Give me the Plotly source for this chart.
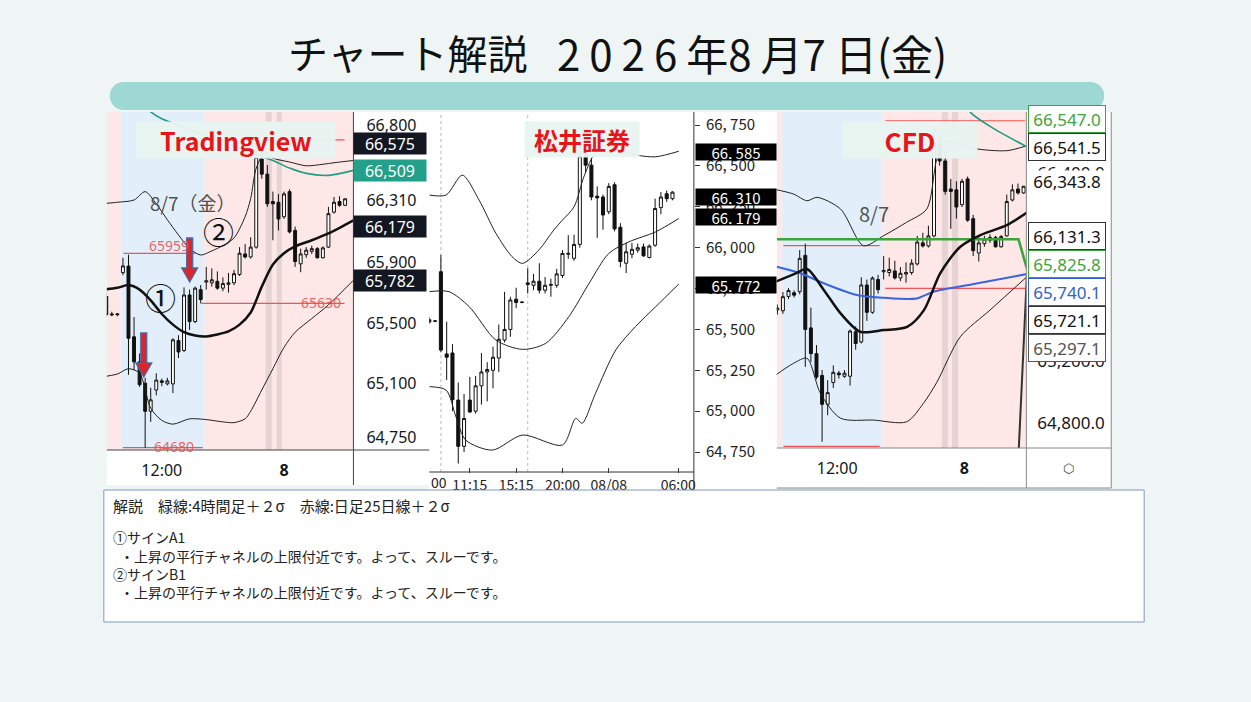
import plotly.graph_objects as go

W, H = 1251, 702
def px(x): return x / W
def py(y): return 1 - y / H

JP = "Noto Sans CJK JP"
TVF = "Noto Sans"

# ---------------- data ----------------
# Panel 1 : TradingView 30-min candles (bar index 1..44)
tv_idx = list(range(1, 45))
tv_open = [65675,65560,65555,65832,65875,65410,65245,65105,64920,65060,65120,65100,65100,65385,65320,
           65685,65510,65720,65770,65765,65775,65730,65755,65765,65820,65955,65935,66000,66580,66480,
           66300,66295,66200,66365,66110,65890,65950,65972,65990,65930,66000,66230,66300,66275]
tv_high = [65700,65575,65565,65930,65950,65540,65300,65140,65075,65170,65135,65140,65400,65420,65735,
           65720,65740,65750,65870,65860,65840,65800,65830,65850,66000,66020,66065,66700,66650,66540,
           66365,66350,66365,66380,66135,65990,66000,66010,66000,66005,66265,66330,66335,66320]
tv_low = [65540,65545,65545,65815,65160,65190,65080,64680,64850,65025,65085,65090,65040,65270,65310,
          65455,65500,65630,65720,65740,65720,65710,65700,65750,65810,65925,65925,65990,66450,66265,
          66045,66110,66185,66090,65870,65835,65930,65955,65925,65925,65995,66220,66265,66270]
tv_close = [65555,65555,65560,65876,65400,65245,65095,64920,64995,65125,65110,65120,65390,65310,65685,
            65510,65730,65655,65778,65785,65730,65760,65765,65825,65960,65935,66000,66590,66480,66285,
            66285,66185,66350,66100,65905,65955,65980,65990,65930,65995,66220,66295,66275,66318]
tv_up_x = [0, 3, 6, 8, 10, 12, 14, 16, 18, 20, 22, 24, 26, 27, 28, 29.5, 31, 34, 37, 40, 42, 45.5]
tv_up_y = [66285, 66295, 66310, 66365, 66285, 66180, 66080, 65990, 65948, 65975, 66010, 66060, 66200,
           66320, 66520, 66620, 66585, 66560, 66535, 66545, 66555, 66570]
tv_mid_x = [0, 3, 5, 7, 9, 11, 13, 15, 17, 19, 21, 23, 25, 27, 29, 31, 33, 35, 38, 41, 45.5]
tv_mid_y = [65718, 65732, 65750, 65720, 65650, 65560, 65490, 65440, 65418, 65412, 65425, 65445, 65490,
            65570, 65740, 65885, 65960, 66005, 66045, 66090, 66176]
tv_lo_x = [0, 3, 5, 7, 9, 11, 13, 16, 19, 22, 24, 26, 27, 29, 31, 33, 35, 38, 41, 45.5]
tv_lo_y = [65145, 65165, 65200, 65170, 64940, 64860, 64835, 64870, 64865, 64850, 64845, 64870, 64920,
           65060, 65200, 65340, 65440, 65530, 65620, 65782]
tv_teal_x = [8, 9, 11, 31, 34, 37, 41, 45.5]
tv_teal_y = [66930, 66890, 66845, 66570, 66520, 66485, 66472, 66505]
tv_ticks = [64750, 65100, 65500, 65900, 66310, 66800]
tv_tick_text = ["64,750", "65,100", "65,500", "65,900", "66,310", "66,800"]
tv_time_idx = [11, 33]
tv_time_text = ["12:00", "<b>8</b>"]
tv_labels = ["66,575", "66,509", "66,179", "65,782"]
tv_red_levels = [65959, 64680, 65630, 66705]
tv_red_from = [4.1, 4.0, 18.1, 18.7]
tv_red_to = [17.0, 18.4, 43.9, 43.9]

# Panel 2 : Matsui 30-min candles (bar index 3..45)
mt_idx = list(range(3, 46))
mt_open = [65560,65550,65853,65350,65356,65068,64785,65068,65000,65155,65240,65250,65325,65435,65500,
           65685,65665,65775,65770,65795,65740,65770,65770,65830,65960,65935,66020,66570,66505,66315,
           66310,66220,66385,66125,65905,65960,65985,66005,65940,66015,66245,66330,66300]
mt_high = [65575,65555,65955,65547,65410,65175,65105,65210,65215,65356,65300,65395,65530,65730,65700,
           65755,65670,65875,65840,65905,65820,65810,65870,65985,66077,66080,66680,66620,66550,66375,
           66325,66395,66400,66150,66030,66030,66025,66025,66020,66300,66340,66350,66345]
mt_low = [65535,65545,65360,65190,65000,64680,64750,64990,64985,65040,65060,65140,65240,65420,65455,
          65630,65660,65720,65740,65720,65720,65700,65755,65815,65932,65920,66000,66460,66290,66060,
          66110,66205,66100,65880,65845,65935,65970,65945,65935,66005,66205,66280,66290]
mt_close = [65545,65552,65374,65330,65070,64785,64955,64995,65155,65240,65255,65330,65440,65500,65680,
            65665,65667,65785,65795,65740,65770,65775,65840,65965,65965,66020,66560,66505,66310,66305,
            66200,66375,66115,65915,65975,65990,66000,65950,66010,66240,66310,66300,66340]
mt_up_x = [3, 5.9, 8.7, 11.6, 14.5, 17.3, 19.1, 21.9, 24.5, 26, 28, 29.7, 31.4, 33.5, 36, 38.9, 42.1, 46.1]
mt_up_y = [66322, 66322, 66444, 66291, 66088, 65945, 65904, 65985, 66108, 66169, 66250, 66434, 66566,
           66630, 66600, 66566, 66556, 66590]
mt_mid_x = [3, 6.4, 9.9, 14.5, 19.1, 23.1, 27.1, 30.6, 34, 37.5, 42.1, 46.1]
mt_mid_y = [65731, 65731, 65639, 65435, 65378, 65415, 65578, 65782, 65965, 66036, 66097, 66179]
mt_lo_x = [3, 5.9, 7.6, 9.3, 13.9, 19.1, 26, 28.3, 29.4, 31.7, 35.2, 38.6, 42.1, 46.1]
mt_lo_y = [65150, 65129, 64966, 64823, 64762, 64854, 64793, 64956, 64926, 65109, 65374, 65517, 65639, 65778]
mt_ticks = [64750, 65000, 65250, 65500, 65750, 66000, 66250, 66500, 66750]
mt_tick_text = ["64, 750", "65, 000", "65, 250", "65, 500", "65, 750", "66, 000", "66, 250", "66, 500", "66, 750"]
mt_time_idx = [10, 18, 26, 34, 46]
mt_time_text = ["11:15", "15:15", "20:00", "08/08", "06:00"]
mt_session_idx = [5, 20]
mt_labels = ["66, 585", "66, 310", "66, 179", "65, 772"]

# Panel 3 : CFD 30-min candles (bar index 0..44)
cfd_idx = list(range(0, 45))
cfd_open = [65525, 65520, 65612, 65635, 65642] + tv_open[4:]
cfd_high = [65560, 65640, 65665, 65650, 65909] + tv_high[4:]
cfd_low = [65495, 65500, 65595, 65605, 65625] + tv_low[4:]
cfd_close = [65537, 65610, 65650, 65620, 65856] + tv_close[4:]
cfd_up_x = [-0.7, 2.9, 5.3, 7.1, 11.3, 15.4, 19, 23.1, 26.7, 28.5, 30, 32, 35.1, 41, 44.6]
cfd_up_y = [66300, 66268, 66225, 66247, 66172, 65937, 66001, 66087, 66172, 66492, 66600, 66600, 66561, 66546, 66578]
cfd_mid_x = [-0.3, 3.3, 5.3, 8.3, 11.3, 14.8, 19, 23.2, 26.2, 29.1, 32.7, 36.3, 41, 44.6]
cfd_mid_y = [65706, 65760, 65787, 65653, 65503, 65385, 65396, 65417, 65524, 65760, 65930, 66005, 66069, 66150]
cfd_lo_x = [-0.7, 2.9, 5.3, 7.7, 11.3, 17.2, 23.1, 26.1, 28.5, 32.7, 38, 44.6]
cfd_lo_y = [65097, 65183, 65215, 64991, 64831, 64819, 64808, 64926, 65061, 65353, 65524, 65738]
cfd_blue_x = [-0.1, 4.1, 8.3, 14.2, 19, 24.9, 27.9, 35.1, 44.6]
cfd_blue_y = [65802, 65760, 65696, 65621, 65603, 65599, 65642, 65691, 65755]
cfd_green_x = [-0.1, 43.1, 44.6]
cfd_green_y = [65978, 65978, 65790]
cfd_teal_x = [32.5, 34.7, 38.6, 44.6]
cfd_teal_y = [66900, 66785, 66689, 66571]
cfd_dark_x = [43.1, 44.6]
cfd_dark_y = [64600, 65750]
cfd_ticks = [64800, 65200, 66400]
cfd_tick_text = ["64,800.0", "65,200.0", "66,400.0"]
cfd_time_idx = [10.7, 33.4]
cfd_time_text = ["12:00", "<b>8</b>"]
cfd_labels = ["66,547.0", "66,541.5", "66,131.3", "65,825.8", "65,740.1", "65,721.1", "65,297.1"]
cfd_last = "66,343.8"
cfd_red_levels = [65937, 64650, 65663, 66738]
cfd_red_from = [1.1, 1.1, 19.3, 19.3]
cfd_red_to = [18.3, 18.3, 44.3, 44.3]

title_left = "チャート解説"
title_right = ("<span style='letter-spacing:9px'>2026</span>年<span style='letter-spacing:9px'>8</span>月"
               "<span style='letter-spacing:9px'>7</span>日(金)")
note_lines = ["解説　緑線:4時間足＋２σ　赤線:日足25日線＋２σ",
              "①サインA1",
              "\u2002・上昇の平行チャネルの上限付近です。よって、スルーです。",
              "②サインB1",
              "\u2002・上昇の平行チャネルの上限付近です。よって、スルーです。"]

# ---------------- figure ----------------
fig = go.Figure()

def candles(x, o, h, l, c, xa, ya):
    fig.add_trace(go.Candlestick(
        x=x, open=o, high=h, low=l, close=c, xaxis=xa, yaxis=ya,
        increasing=dict(line=dict(color="#111", width=1), fillcolor="white"),
        decreasing=dict(line=dict(color="#111", width=1), fillcolor="#111"),
        whiskerwidth=0, hoverinfo="skip", showlegend=False))

def line(x, y, xa, ya, color, width, shape="spline"):
    fig.add_trace(go.Scatter(x=x, y=y, xaxis=xa, yaxis=ya, mode="lines",
                             line=dict(color=color, width=width, shape=shape, smoothing=0.8),
                             hoverinfo="skip", showlegend=False))

# panel 1
line(tv_up_x, tv_up_y, "x", "y", "#222", 1)
line(tv_lo_x, tv_lo_y, "x", "y", "#222", 1)
line(tv_mid_x, tv_mid_y, "x", "y", "#111", 2.5)
line(tv_teal_x, tv_teal_y, "x", "y", "#1F9C84", 1.6)
candles(tv_idx, tv_open, tv_high, tv_low, tv_close, "x", "y")
# panel 2
line(mt_up_x, mt_up_y, "x2", "y2", "#222", 1)
line(mt_mid_x, mt_mid_y, "x2", "y2", "#222", 1)
line(mt_lo_x, mt_lo_y, "x2", "y2", "#222", 1)
candles(mt_idx, mt_open, mt_high, mt_low, mt_close, "x2", "y2")
# panel 3
line(cfd_up_x, cfd_up_y, "x3", "y3", "#222", 1)
line(cfd_lo_x, cfd_lo_y, "x3", "y3", "#222", 1)
line(cfd_blue_x, cfd_blue_y, "x3", "y3", "#3A64E0", 2)
line(cfd_green_x, cfd_green_y, "x3", "y3", "#3DA33D", 2.6, "linear")
line(cfd_mid_x, cfd_mid_y, "x3", "y3", "#111", 2.5)
line(cfd_teal_x, cfd_teal_y, "x3", "y3", "#1F9C84", 1.6)
line(cfd_dark_x, cfd_dark_y, "x3", "y3", "#333", 2, "linear")
candles(cfd_idx, cfd_open, cfd_high, cfd_low, cfd_close, "x3", "y3")

shapes = []
def prect(x0, y0, x1, y1, fill, layer="below", lc=None, lw=0):
    shapes.append(dict(type="rect", xref="paper", yref="paper", x0=px(x0), x1=px(x1), y0=py(y1), y1=py(y0),
                       fillcolor=fill, line=dict(color=lc or fill, width=lw), layer=layer))
def pline(x0, y0, x1, y1, color, w=1, layer="above"):
    shapes.append(dict(type="line", xref="paper", yref="paper", x0=px(x0), x1=px(x1), y0=py(y0), y1=py(y1),
                       line=dict(color=color, width=w), layer=layer))

# panel white backgrounds
prect(107, 112, 430, 485, "white")
prect(430, 112, 778, 490, "white")
prect(778, 112, 1113, 488, "white")
# teal header bar
prect(124, 82, 1092, 110, "#9ED8D5")
for cx in (110, 1078):
    shapes.append(dict(type="circle", xref="paper", yref="paper", x0=px(cx), x1=px(cx + 28), y0=py(110), y1=py(82),
                       fillcolor="#9ED8D5", line=dict(width=0), layer="below"))

def vband(xa, x0, x1, color):
    shapes.append(dict(type="rect", xref=xa, yref=xa.replace("x", "y") + " domain", x0=x0, x1=x1, y0=0, y1=1,
                       fillcolor=color, line=dict(width=0), layer="below"))
PINK, BLUE, GRAY = "#FDE7E7", "#E2EFFA", "rgba(185,175,175,0.35)"
vband("x", 1.1, 3.6, PINK); vband("x", 3.6, 18.7, BLUE); vband("x", 18.7, 45.5, PINK)
vband("x", 29.7, 30.8, GRAY); vband("x", 31.7, 32.6, GRAY)
vband("x3", -0.1, 0.8, PINK); vband("x3", 0.8, 18.8, BLUE); vband("x3", 18.8, 44.5, PINK)
vband("x3", 29.4, 30.5, GRAY); vband("x3", 31.2, 32.3, GRAY)
for s in mt_session_idx:
    shapes.append(dict(type="line", xref="x2", yref="y2 domain", x0=s, x1=s, y0=0, y1=1,
                       line=dict(color="#BBB", width=1, dash="dot"), layer="below"))
for lv, a, b in zip(tv_red_levels, tv_red_from, tv_red_to):
    shapes.append(dict(type="line", xref="x", yref="y", x0=a, x1=b, y0=lv, y1=lv,
                       line=dict(color="#F05454", width=1.2), layer="below"))
for lv, a, b in zip(cfd_red_levels, cfd_red_from, cfd_red_to):
    shapes.append(dict(type="line", xref="x3", yref="y3", x0=a, x1=b, y0=lv, y1=lv,
                       line=dict(color="#F05454", width=1.2), layer="below"))

# axis frame lines
pline(354, 112, 354, 485, "#444"); pline(107, 450, 430, 450, "#444")
pline(695, 112, 695, 490, "#333"); pline(430, 472, 695, 472, "#333")
pline(1028, 112, 1028, 488, "#888"); pline(1113, 112, 1113, 488, "#888")
pline(778, 448, 1113, 448, "#888"); pline(778, 488, 1113, 488, "#888")

# arrows (red with blue outline)
arrow_path = "M -3 44 L 3 44 L 3 14 L 8 14 L 0 0 L -8 14 L -3 14 Z"
for ax_, ay_ in ((144, 377), (190, 282)):
    shapes.append(dict(type="path", xref="paper", yref="paper", xsizemode="pixel", ysizemode="pixel",
                       xanchor=px(ax_), yanchor=py(ay_), path=arrow_path,
                       fillcolor="#D8262B", line=dict(color="#4A6AA8", width=1.3), layer="above"))

# note box
prect(104, 490, 1146, 622, "white", layer="above", lc="#7E98C2", lw=1)

ann = []
def text(x, y, t, size, color="#111", family=JP, xanchor="center", bg=None, w=None, h=None, bc=None, bw=0):
    d = dict(xref="paper", yref="paper", x=px(x), y=py(y), text=t, showarrow=False, xanchor=xanchor,
             yanchor="middle", font=dict(size=size, color=color, family=family))
    if bg: d["bgcolor"] = bg
    if w: d["width"] = w
    if h: d["height"] = h
    if bc: d["bordercolor"] = bc; d["borderwidth"] = bw
    ann.append(d)

text(409, 52, title_left, 40, "#111")
text(753, 52, title_right, 42, "#111")
# panel titles
text(236, 140, "<b>Tradingview</b>", 25, "#E8141B", JP, bg="rgba(232,245,240,0.96)", w=196, h=34)
text(583, 139, "<b>松井証券</b>", 24, "#E8141B", JP, bg="rgba(232,245,240,0.96)", w=112, h=33)
text(911, 140, "<b>CFD</b>", 26, "#E8141B", JP, bg="rgba(232,245,240,0.96)", w=132, h=34)
# panel 1 marks
text(193, 203, "8/7（金）", 19, "#505050")
text(161, 296, "①", 31, "#111")
text(219, 230, "②", 31, "#111")
text(169, 246, "65959", 14, "rgba(240,80,80,0.9)", TVF)
text(174, 446, "64680", 14, "rgba(240,80,80,0.9)", TVF)
text(322, 302, "65630", 14, "rgba(240,80,80,0.9)", TVF)
text(875, 214, "8/7", 20, "#555")
# price labels
for t, yy, bg in zip(tv_labels, [143, 170, 226, 280], ["#131722", "#22A089", "#131722", "#131722"]):
    text(391, yy, t, 16, "white", TVF, bg=bg, w=70, h=19)
for t, yy in zip(mt_labels, [152, 197, 217, 285]):
    text(737, yy, t, 15, "white", JP, bg="#000", w=78, h=14)
cfd_lab_y = [119, 147, 236, 264, 292, 320, 348]
cfd_lab_c = ["#3DA33D", "#111", "#111", "#3DA33D", "#2F5FD0", "#111", "#555"]
cfd_lab_b = ["#3DA33D", "#333", "#333", "#3DA33D", "#2F5FD0", "#333", "#555"]
for t, yy, c, b in zip(cfd_labels, cfd_lab_y, cfd_lab_c, cfd_lab_b):
    text(1069, yy, t, 17, c, TVF, bg="white", w=74, h=24, bc=b, bw=1)
text(1069, 181, cfd_last, 17, "#111", TVF, bg="white", w=76, h=18)
text(1070, 468, "⬡", 13, "#555", "DejaVu Sans")
text(430, 482, "00", 14, "#222", JP, xanchor="left")
# note text
for t, yy, fs in zip(note_lines, [505, 537, 556, 574, 592], [15, 14, 14, 14, 14]):
    text(111, yy, t, fs, "#222", JP, xanchor="left")

common_x = dict(showgrid=False, zeroline=False, rangeslider=dict(visible=False), showline=False, fixedrange=True)
common_y = dict(showgrid=False, zeroline=False, side="right", showline=False, fixedrange=True)

fig.update_layout(
    width=W, height=H, autosize=False, margin=dict(l=0, r=0, t=0, b=0),
    paper_bgcolor="#EEF5F4", plot_bgcolor="rgba(0,0,0,0)", showlegend=False,
    boxgap=0.25,
    xaxis=dict(domain=[px(107), px(354)], range=[1.1, 45.5], anchor="y", tickvals=tv_time_idx,
               ticktext=tv_time_text, ticks="", ticklabelstandoff=9,
               tickfont=dict(size=16, family=TVF, color="#131722"), **common_x),
    yaxis=dict(domain=[py(450), py(112)], range=[64665, 66889], anchor="x", tickvals=tv_ticks,
               ticktext=tv_tick_text, ticks="", ticklabelstandoff=12,
               tickfont=dict(size=16, family=TVF, color="#131722"), **common_y),
    xaxis2=dict(domain=[px(430), px(695)], range=[3.0, 48.7], anchor="free", position=py(467),
                tickvals=mt_time_idx, ticktext=mt_time_text, ticks="outside", ticklen=5, tickcolor="#333",
                ticklabelstandoff=0, tickfont=dict(size=14, family=JP, color="#222"), **common_x),
    yaxis2=dict(domain=[py(472), py(112)], range=[64628, 66830], anchor="x2", tickvals=mt_ticks,
                ticktext=mt_tick_text, ticks="outside", ticklen=5, tickcolor="#333", ticklabelstandoff=3,
                tickfont=dict(size=15, family=JP, color="#222"), **common_y),
    xaxis3=dict(domain=[px(778), px(1028)], range=[-0.1, 44.5], anchor="y3", tickvals=cfd_time_idx,
                ticktext=cfd_time_text, ticks="", ticklabelstandoff=9,
                tickfont=dict(size=16, family=TVF, color="#131722"), **common_x),
    yaxis3=dict(domain=[py(448), py(112)], range=[64640, 66794], anchor="x3", tickvals=cfd_ticks,
                ticktext=cfd_tick_text, ticks="", ticklabelstandoff=10,
                tickfont=dict(size=17, family=TVF, color="#131722"), **common_y),
    shapes=shapes, annotations=ann,
)

fig.write_html("out.html", config={"displayModeBar": False},
               post_script="document.body.style.margin='0px';document.body.style.overflow='hidden';")
